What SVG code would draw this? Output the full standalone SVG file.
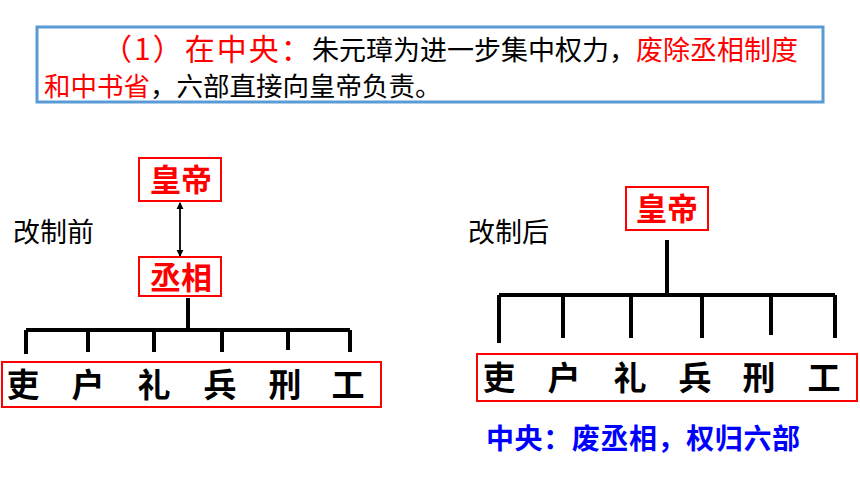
<svg xmlns="http://www.w3.org/2000/svg" width="860" height="484" viewBox="0 0 860 484">
<defs>
<style>
text{font-family:"Noto Sans CJK SC","Liberation Sans",sans-serif}
.red{fill:#ff0000}
.blk{fill:#000}
.box{fill:#fff;stroke:#ff0000;stroke-width:2}
.tree{fill:none;stroke:#000;stroke-width:4}
.node{font-size:31px;font-weight:bold;fill:#ff0000;text-anchor:middle}
.dept{font-size:33px;font-weight:bold;fill:#000;text-anchor:middle}
.lbl{font-size:27px;fill:#000}
</style>
<marker id="ah" viewBox="0 0 8 8" refX="7" refY="4" markerWidth="4" markerHeight="4" orient="auto-start-reverse">
<path d="M0,0 L8,4 L0,8 z" fill="#000"/>
</marker>
</defs>
<rect width="860" height="484" fill="#fff"/>

<g id="header">
<rect x="37" y="27" width="786" height="75" fill="#fff" stroke="#5b9bd5" stroke-width="3"/>
<text y="60"><tspan x="102" class="red" font-size="30" letter-spacing="2">（1）在中央：</tspan><tspan x="312" class="blk" font-size="27">朱元璋为进一步集中权力，</tspan><tspan class="red" font-size="27">废除丞相制度</tspan></text>
<text y="96" font-size="26.5"><tspan x="44" class="red">和中书省</tspan><tspan class="blk">，六部直接向皇帝负责。</tspan></text>
</g>

<g id="connectors">
<line x1="180" y1="203" x2="180" y2="256" stroke="#000" stroke-width="1.8" marker-start="url(#ah)" marker-end="url(#ah)"/>
<path class="tree" d="M188,298 V330 M26,330 H350 M26,330 V354 M88,330 V352 M154,330 V352 M222,330 V352 M288,330 V350 M350,330 V352"/>
<path class="tree" d="M667,240 V295 M499,295 H835 M499,295 V343 M563,295 V338 M631,295 V338 M702,295 V338 M771,295 V335 M835,295 V338"/>
</g>

<g id="before">
<text class="lbl" x="13" y="242">改制前</text>
<g id="emperor1"><rect class="box" x="139" y="158" width="82" height="43"/><text class="node" x="181" y="191">皇帝</text></g>
<g id="chancellor"><rect class="box" x="139" y="257" width="82" height="39"/><text class="node" x="181" y="289">丞相</text></g>
<g id="depts1"><rect class="box" x="2" y="362" width="379" height="45"/>
<text class="dept" y="397"><tspan x="23">吏</tspan><tspan x="88">户</tspan><tspan x="154">礼</tspan><tspan x="220">兵</tspan><tspan x="285">刑</tspan><tspan x="348">工</tspan></text></g>
</g>

<g id="after">
<text class="lbl" x="468" y="242">改制后</text>
<g id="emperor2"><rect class="box" x="626" y="187" width="82" height="43"/><text class="node" x="667" y="220">皇帝</text></g>
<g id="depts2"><rect class="box" x="477" y="354" width="380" height="47"/>
<text class="dept" y="390"><tspan x="499">吏</tspan><tspan x="564">户</tspan><tspan x="630">礼</tspan><tspan x="695">兵</tspan><tspan x="759">刑</tspan><tspan x="824">工</tspan></text></g>
<text x="486" y="449" font-size="28" font-weight="bold" fill="#0000ff" letter-spacing="0.6">中央：废丞相，权归六部</text>
</g>
</svg>
